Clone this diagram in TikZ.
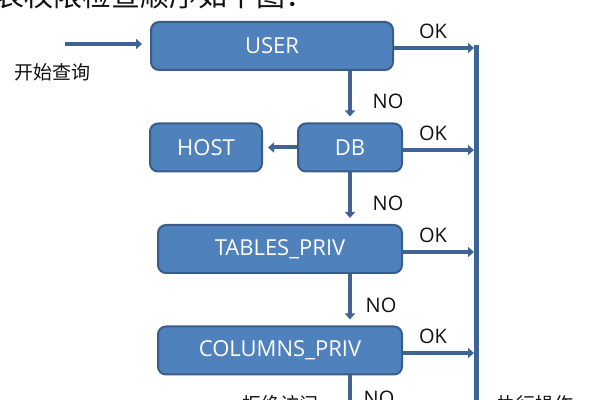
\documentclass[tikz,border=0pt]{standalone}
\usepackage{fontspec}
\setsansfont{Open Sans}
\newfontfamily\cjk{Noto Sans CJK SC}
\usepackage{tikz}
\usetikzlibrary{arrows.meta,positioning,calc}
\definecolor{boxfill}{HTML}{4F81BD}
\definecolor{boxedge}{HTML}{385D8A}
\definecolor{flowblue}{HTML}{3D6494}
\definecolor{ink}{HTML}{111111}

\begin{document}
\begin{tikzpicture}[x=0.5pt,y=-0.5pt,>={Triangle[length=3pt,width=5pt]},
  privbox/.style={rectangle,rounded corners=4pt,fill=boxfill,draw=boxedge,line width=1pt,
    text=white,font=\sffamily\fontsize{11}{13}\selectfont,inner sep=0pt,minimum height=24pt},
  link/.style={->,draw=flowblue,line width=2pt},
  tag/.style={font=\sffamily\fontsize{10}{12}\selectfont,text=ink,inner sep=0pt},
  cjktag/.style={font=\cjk\fontsize{9.5}{11}\selectfont,text=ink,inner sep=0pt}]
  \useasboundingbox (0,0) rectangle (600,400);
  \clip (0,0) rectangle (600,400);
  % title line, cut off at the top
  \node[font=\cjk\fontsize{14.5}{16}\selectfont,text=ink,inner sep=0pt,anchor=base west]
    (title) at (-5,7) {表权限检查顺序如下图：};
  % privilege tables
  \node[privbox,minimum width=121pt] (user) at (272,46) {USER};
  \node[privbox,minimum width=56pt] (host) at (206,147.5) {HOST};
  \node[privbox,minimum width=52pt] (db) at (350,147.5) {DB};
  \node[privbox,minimum width=122pt] (tables) at (280,249) {TABLES\_PRIV};
  \node[privbox,minimum width=122pt] (columns) at (280,350.5) {COLUMNS\_PRIV};
  % start of the query
  \coordinate (start) at (65,44);
  \draw[link,shorten >=4pt] (start) -- (start -| user.west);
  \node[cjktag] (startlbl) at (52,72) {开始查询};
  % OK bus on the right
  \coordinate (bartop) at (476,45);
  \coordinate (barend) at (476,410);
  \draw[flowblue,line width=2.5pt] (bartop) -- (barend);
  \foreach \b/\y in {user/48,db/150,tables/252,columns/353}{
    \coordinate (ok\b) at (474,\y);
    \draw[link] (\b.east |- ok\b) -- (ok\b);
    \node[tag] (oklbl\b) at (433,\y-17) {OK};}
  % NO chain
  \draw[link,shorten >=3pt] (user.south -| db) -- (db.north);
  \draw[link,shorten >=3pt] (db.south) -- (db.south |- tables.north);
  \draw[link,shorten >=3pt] (tables.south -| db) -- (columns.north -| db);
  \coordinate (nodown) at (350,410);
  \draw[flowblue,line width=2pt] (columns.south -| db) -- (nodown);
  \draw[link,shorten >=2.5pt] (db.west) -- (host.east);
  \foreach \n/\x/\y in {a/388/101,b/388/203,c/381/305,d/379/398}
    \node[tag] (nolbl\n) at (\x,\y) {NO};
  % outcomes, cut off at the bottom
  \node[cjktag] (deny) at (280,404) {拒绝访问};
  \node[cjktag] (exec) at (535,404) {执行操作};
\end{tikzpicture}
\end{document}
